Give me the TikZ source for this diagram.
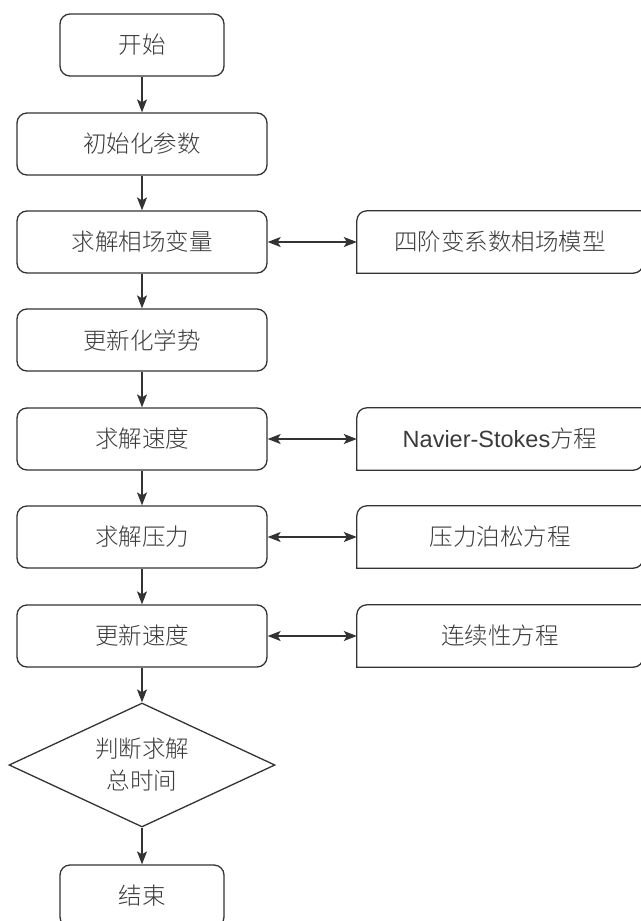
\documentclass[tikz,border=0pt]{standalone}
\usepackage{fontspec}
\setmainfont{Liberation Sans}
\IfFontExistsTF{Noto Sans CJK SC Light}{\newfontfamily\cjk{Noto Sans CJK SC Light}}{\newfontfamily\cjk{Noto Sans CJK SC}}
\newfontfamily\latin{Liberation Sans}
\usetikzlibrary{arrows.meta,shapes.geometric}
\definecolor{ln}{HTML}{333333}
\definecolor{tx}{HTML}{3A3A3A}
\begin{document}
\begin{tikzpicture}[x=1pt,y=1pt,
  every node/.style={font=\cjk\fontsize{23.5}{32}\selectfont, text=tx},
  edge/.style={draw=ln, line width=1.3pt},
  arr/.style={edge, -{Stealth[length=13pt,width=10pt,inset=3pt]}},
  darr/.style={edge, {Stealth[length=13pt,width=10pt,inset=3pt]}-{Stealth[length=13pt,width=10pt,inset=3pt]}},
  sbox/.style={edge, rounded corners=10pt, minimum width=164pt, minimum height=62pt, inner sep=0pt},
  lbox/.style={edge, rounded corners=10pt, minimum width=250pt, minimum height=62pt, inner sep=0pt},
  rbox/.style={minimum width=286pt, minimum height=62pt, inner sep=0pt},
  dec/.style={edge, diamond, aspect=2.145, minimum width=266pt, minimum height=124pt, inner sep=0pt, align=center}
]
\useasboundingbox (0,0) rectangle (640,-921);

\node[sbox] (start) at (142,-45) {开始};
\node[lbox] (init) at (142,-144) {初始化参数};
\node[lbox] (phase) at (142,-242) {求解相场变量};
\node[lbox] (chem) at (142,-340) {更新化学势};
\node[lbox] (vel) at (142,-439) {求解速度};
\node[lbox] (pres) at (142,-537) {求解压力};
\node[lbox] (upd) at (142,-636) {更新速度};
\node[dec] (judge) at (142,-765) {判断求解\\总时间};
\node[sbox] (end) at (142,-896) {结束};

\node[rbox] (m1) at (500,-242) {四阶变系数相场模型};
\node[rbox] (m2) at (500,-439) {{\latin\fontsize{23.5}{28}\selectfont Navier-Stokes}方程};
\node[rbox] (m3) at (500,-537) {压力泊松方程};
\node[rbox] (m4) at (500,-636) {连续性方程};

\foreach \m in {m1,m2,m3,m4}{
  \draw[edge] (\m.south west) -- ([yshift=-10pt]\m.north west)
    arc[start angle=180,end angle=90,radius=10pt] -- (\m.north east)
    -- ([yshift=10pt]\m.south east) arc[start angle=0,end angle=-90,radius=10pt] -- cycle;
}

\draw[arr] (start) -- (init);
\draw[arr] (init) -- (phase);
\draw[arr] (phase) -- (chem);
\draw[arr] (chem) -- (vel);
\draw[arr] (vel) -- (pres);
\draw[arr] (pres) -- (upd);
\draw[arr] (upd) -- (judge);
\draw[arr] (judge) -- (end);

\draw[darr] (phase.east) -- (m1.west);
\draw[darr] (vel.east) -- (m2.west);
\draw[darr] (pres.east) -- (m3.west);
\draw[darr] (upd.east) -- (m4.west);
\end{tikzpicture}
\end{document}
